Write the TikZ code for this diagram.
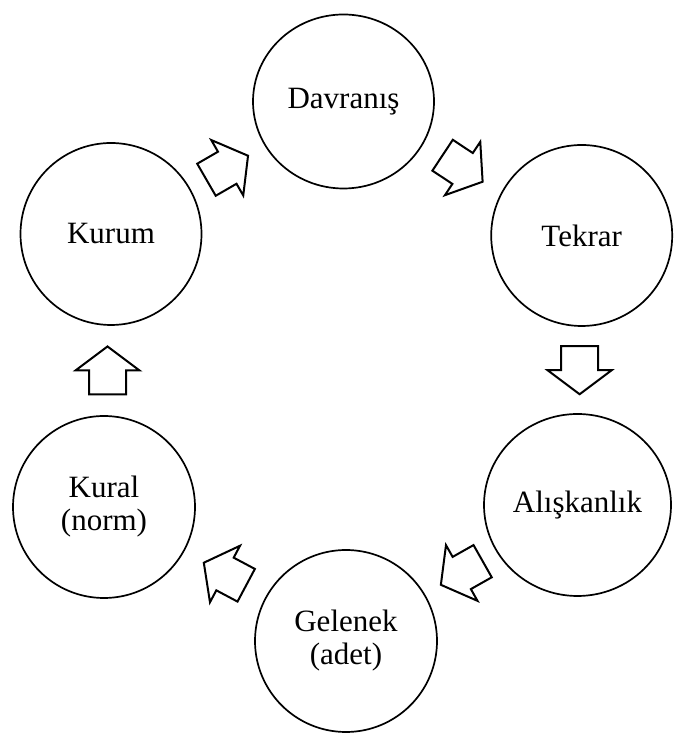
\documentclass[tikz,border=0pt]{standalone}
\usepackage{fontspec}
\setmainfont{Liberation Serif}
\usetikzlibrary{calc,shapes.geometric}
\tikzset{
  bubble/.style={draw=black, line width=1.7pt, ellipse, inner sep=0pt, align=center,
    font=\fontsize{31}{33}\selectfont},
  arrowline/.style={draw=black, fill=white, line width=2pt, line join=miter},
  blockarrow/.pic={
    \path[arrowline] (-24,-18.5) -- (0,-18.5) -- (0,-32) -- (24,0) -- (0,32) -- (0,18.5) -- (-24,18.5) -- cycle;
  }
}
\begin{document}
\begin{tikzpicture}[x=1pt,y=1pt]
\useasboundingbox (0,0) rectangle (673,733);
\node[bubble, minimum width=181pt, minimum height=174pt] (davranis) at (343.5,631.5) {Davranış};
\node[bubble, minimum width=181pt, minimum height=181pt] (tekrar) at (581.7,497.5) {Tekrar};
\node[bubble, minimum width=187pt, minimum height=182pt] (aliskanlik) at (577.5,228) {Alışkanlık};
\node[bubble, minimum width=182pt, minimum height=182pt] (gelenek) at (346,92) {Gelenek\\(adet)};
\node[bubble, minimum width=182pt, minimum height=182pt] (kural) at (104,226) {Kural\\(norm)};
\node[bubble, minimum width=181pt, minimum height=182pt] (kurum) at (111,499) {Kurum};
\pic[rotate=30] at ($(kurum)!0.5!(davranis)$) {blockarrow};
\pic[rotate=-33.5] at ($(davranis)!0.5!(tekrar)$) {blockarrow};
\pic[rotate=-90] at ($(tekrar)!0.5!(aliskanlik)$) {blockarrow};
\pic[rotate=209.5] at ($(aliskanlik)!0.5!(gelenek)$) {blockarrow};
\pic[rotate=152] at ($(gelenek)!0.5!(kural)$) {blockarrow};
\pic[rotate=90] at ($(kural)!0.5!(kurum)$) {blockarrow};
\end{tikzpicture}
\end{document}
